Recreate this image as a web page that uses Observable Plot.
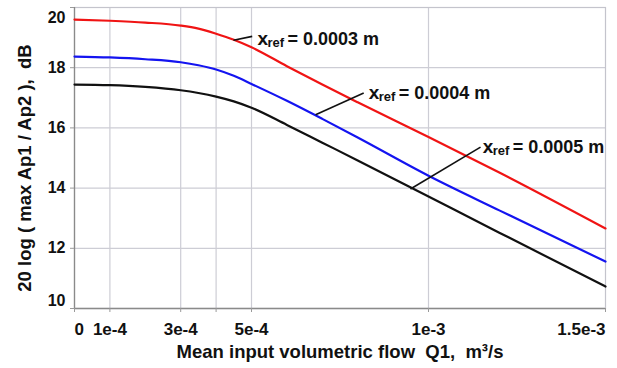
<!DOCTYPE html>
<html>
<head>
<meta charset="utf-8">
<script src="https://cdn.jsdelivr.net/npm/d3@7"></script>
<script src="https://cdn.jsdelivr.net/npm/@observablehq/plot@0.6"></script>
<style>
  html, body { margin: 0; padding: 0; background: #fff; }
  #chart svg { display: block; }
</style>
</head>
<body>
<div id="chart"></div>
<script>
// ---- data ----
const flowQ = [0, 1e-4, 2e-4, 3e-4, 3.5e-4, 4e-4, 4.5e-4, 5e-4, 6e-4, 7e-4, 8e-4, 1e-3, 1.2e-3, 1.5e-3];
const red03 =   [19.60, 19.56, 19.50, 19.40, 19.30, 19.13, 18.93, 18.68, 18.05, 17.44, 16.85, 15.70, 14.52, 12.66];
const blue04 =  [18.37, 18.34, 18.28, 18.18, 18.08, 17.94, 17.73, 17.46, 16.90, 16.30, 15.68, 14.41, 13.26, 11.56];
const black05 = [17.44, 17.42, 17.36, 17.25, 17.16, 17.04, 16.88, 16.67, 16.10, 15.51, 14.92, 13.72, 12.52, 10.73];

const seriesNames = ["xref = 0.0003 m", "xref = 0.0004 m", "xref = 0.0005 m"];
const seriesColors = ["#f01414", "#1414f0", "#111111"];

const xGrid = [1e-4, 3e-4, 4e-4, 5e-4, 1e-3];
const xTicksAll = [0, 1e-4, 3e-4, 4e-4, 5e-4, 1e-3, 1.5e-3];
const xTickMid = [1e-4, 3e-4, 5e-4, 1e-3];
const xTickMidLabels = ["1e-4", "3e-4", "5e-4", "1e-3"];
const yTicks = [10, 12, 14, 16, 18, 20];
const yGrid = [12, 14, 16, 18];

// annotations (data coords)
const annoX = [5.17e-4, 8.31e-4, 1.153e-3];
const annoY = [18.77, 16.97, 15.17];
const annoVal = ["= 0.0003 m", "= 0.0004 m", "= 0.0005 m"];
const leadX1 = [4.49e-4, 6.81e-4, 9.49e-4];
const leadY1 = [18.91, 16.44, 13.97];
const leadX2 = [5.02e-4, 8.17e-4, 1.147e-3];
const leadY2 = [19.04, 17.16, 15.36];

const xTitle = "Mean input volumetric flow  Q1,  m\u00b3/s";
const yTitle = "20 log ( max Ap1 / Ap2 ),  dB";

// ---- build tables ----
const rows = [];
[red03, blue04, black05].forEach((arr, k) => {
  arr.forEach((v, i) => rows.push({q: flowQ[i], db: v, s: seriesNames[k]}));
});
const anno = annoX.map((x, i) => ({x, y: annoY[i], v: annoVal[i]}));
const leads = leadX1.map((x1, i) => ({x1, y1: leadY1[i], x2: leadX2[i], y2: leadY2[i]}));

const font = "'Liberation Sans', Arial, sans-serif";
const gridColor = "#cdcdd5";

const chart = Plot.plot({
  width: 617,
  height: 368,
  marginLeft: 74,
  marginRight: 12,
  marginTop: 7,
  marginBottom: 60,
  style: {fontFamily: font, fontWeight: "bold", fontSize: "16px", color: "#111", background: "#fff"},
  x: {domain: [0, 1.5e-3]},
  y: {domain: [10, 20]},
  color: {domain: seriesNames, range: seriesColors},
  marks: [
    Plot.gridX(xGrid, {stroke: gridColor, strokeOpacity: 1, strokeWidth: 1.2}),
    Plot.gridY(yGrid, {stroke: gridColor, strokeOpacity: 1, strokeWidth: 1.2}),
    Plot.frame({stroke: "#c4c4cc", strokeWidth: 1.2}),
    Plot.ruleX([0], {stroke: "#8a8a8a", strokeWidth: 1.3}),
    Plot.ruleY([10], {stroke: "#8a8a8a", strokeWidth: 1.3}),
    // ticks
    Plot.axisX({ticks: xTicksAll, tickSize: 4, tickFormat: () => "", stroke: "#9a9a9a"}),
    Plot.axisY({ticks: yTicks, tickSize: 4, tickFormat: () => "", stroke: "#9a9a9a"}),
    // x tick labels
    Plot.axisX({ticks: xTickMid, tickSize: 0, tickPadding: 14, fontSize: 17, tickFormat: (d) => xTickMidLabels[xTickMid.indexOf(d)]}),
    Plot.axisX({ticks: [0], tickSize: 0, tickPadding: 14, fontSize: 17, textAnchor: "start", tickFormat: () => "0"}),
    Plot.axisX({ticks: [1.5e-3], tickSize: 0, tickPadding: 14, fontSize: 17, textAnchor: "end", tickFormat: () => "1.5e-3"}),
    // y tick labels
    Plot.axisY({ticks: [12, 14, 16, 18], tickSize: 0, tickPadding: 9, fontSize: 16, tickFormat: (d) => String(d)}),
    Plot.axisY({ticks: [20], tickSize: 0, tickPadding: 9, fontSize: 16, dy: 10, tickFormat: (d) => String(d)}),
    Plot.axisY({ticks: [10], tickSize: 0, tickPadding: 9, fontSize: 16, dy: -8, tickFormat: (d) => String(d)}),
    // curves
    Plot.line(rows, {x: "q", y: "db", z: "s", stroke: "s", strokeWidth: 2.2, curve: "monotone-x"}),
    // leader lines
    Plot.link(leads, {x1: "x1", y1: "y1", x2: "x2", y2: "y2", stroke: "#111", strokeWidth: 1.6}),
    // annotation text: x_ref = value
    Plot.text(anno, {x: "x", y: "y", text: () => "x", textAnchor: "start", lineAnchor: "bottom", fontSize: 19, fontWeight: "bold", fill: "#111"}),
    Plot.text(anno, {x: "x", y: "y", text: () => "ref", textAnchor: "start", lineAnchor: "bottom", dx: 10, dy: 2, fontSize: 13, fontWeight: "bold", fill: "#111"}),
    Plot.text(anno, {x: "x", y: "y", text: "v", textAnchor: "start", lineAnchor: "bottom", dx: 30, fontSize: 18, fontWeight: "bold", fill: "#111"}),
    // axis titles
    Plot.text([xTitle], {frameAnchor: "bottom", textAnchor: "middle", lineAnchor: "bottom", dy: 49, fontSize: 18.5, fontWeight: "bold", fill: "#111"}),
    Plot.text([yTitle], {frameAnchor: "left", textAnchor: "middle", lineAnchor: "middle", rotate: -90, dx: -49, dy: 10, fontSize: 18.5, fontWeight: "bold", fill: "#111"})
  ]
});
document.getElementById("chart").appendChild(chart);
</script>
</body>
</html>
